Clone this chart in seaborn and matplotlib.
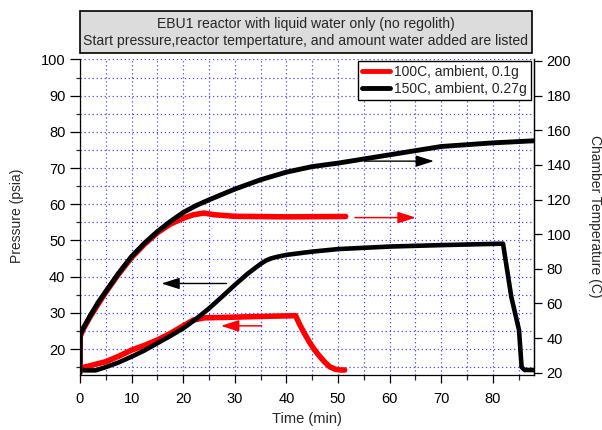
import matplotlib
matplotlib.use("Agg")
import numpy as np
import pandas as pd
import matplotlib.pyplot as plt
import seaborn as sns
from matplotlib.ticker import MultipleLocator
from matplotlib.patches import Rectangle, ArrowStyle
from matplotlib.lines import Line2D

# ---------------- data ----------------
title_lines = ["EBU1 reactor with liquid water only (no regolith)",
               "Start pressure,reactor tempertature, and amount water added are listed"]
legend_labels = ["100C, ambient, 0.1g", "150C, ambient, 0.27g"]
series_colors = ["#ff0000", "#000000"]
x_label = "Time (min)"
y_label_left = "Pressure (psia)"
y_label_right = "Chamber Temperature (C)"

# Pressure (left axis), 100C run
t_p100 = [0, 2, 5, 7.5, 10, 12.5, 15, 17.5, 20, 22, 24, 27, 30, 35, 41.8,
          42.5, 43.5, 44.6, 45.5, 46.5, 47.5, 48.4, 49.5, 50.5, 51.3]
p_100 = [14.7, 15.4, 16.5, 18.0, 19.7, 21.0, 22.5, 24.3, 26.4, 28.0, 28.6, 28.7, 28.8, 29.0, 29.2,
         27.0, 24.3, 21.6, 19.7, 17.9, 16.3, 15.1, 14.4, 14.2, 14.2]

# Pressure (left axis), 150C run
t_p150 = [0, 1, 3, 5, 7.5, 10, 12.5, 15, 17.5, 20, 22.5, 25, 27.5, 30, 32.5, 35,
          36, 37, 38, 40, 45, 50, 60, 70, 82.0, 83.6, 85.1, 85.6, 86.2, 88]
p_150 = [14.3, 14.1, 14.1, 15.0, 16.3, 17.9, 19.6, 21.6, 23.6, 25.7, 28.3, 31.2, 34.4, 37.7, 40.8, 43.5,
         44.4, 45.0, 45.4, 46.0, 46.9, 47.6, 48.3, 48.7, 49.1, 34.4, 25.2, 15.0, 14.2, 14.2]

# Chamber temperature (right axis), 100C run
t_T100 = [0, 0.05, 0.6, 2, 5, 7.5, 10, 12.5, 15, 17.5, 20, 22, 24, 26, 30, 40, 51.5]
T_100 = [20, 41, 45, 52.5, 66.5, 77, 86.5, 94.2, 100.8, 105.8, 109.2, 111.2, 112.2, 111.2, 110.3, 110.0, 110.2]

# Chamber temperature (right axis), 150C run
t_T150 = [0, 0.05, 0.6, 2, 3.5, 5, 7.5, 10, 12.5, 15, 17.5, 20, 22.5, 25, 30, 35,
          40, 45, 50, 60, 70, 80, 88]
T_150 = [20, 42, 45.5, 53, 60.5, 66.9, 77.5, 87.1, 94.8, 101.5, 107.3, 112.5, 116.5, 119.8, 126.0, 131.4,
         135.8, 139.0, 141.0, 145.8, 150.6, 152.7, 153.9]

# ---------------- style ----------------
sns.set_theme(style="white")
plt.rcParams["font.family"] = ["Liberation Sans", "DejaVu Sans"]
plt.rcParams["axes.edgecolor"] = "black"
plt.rcParams["axes.linewidth"] = 0.9

W, H = 602, 430
fig = plt.figure(figsize=(W / 100, H / 100), dpi=100)
ax = fig.add_axes([80 / W, 1 - 375 / H, 454 / W, (375 - 59.4) / H])
ax2 = ax.twinx()

df_p100 = pd.DataFrame({"t": t_p100, "v": p_100})
df_p150 = pd.DataFrame({"t": t_p150, "v": p_150})
df_T100 = pd.DataFrame({"t": t_T100, "v": T_100})
df_T150 = pd.DataFrame({"t": t_T150, "v": T_150})

sns.lineplot(data=df_p100, x="t", y="v", ax=ax, color=series_colors[0], lw=4.0,
             estimator=None, sort=False, legend=False, zorder=3)
sns.lineplot(data=df_p150, x="t", y="v", ax=ax, color=series_colors[1], lw=3.3,
             estimator=None, sort=False, legend=False, zorder=4)
sns.lineplot(data=df_T100, x="t", y="v", ax=ax2, color=series_colors[0], lw=4.0,
             estimator=None, sort=False, legend=False, zorder=3)
sns.lineplot(data=df_T150, x="t", y="v", ax=ax2, color=series_colors[1], lw=3.5,
             estimator=None, sort=False, legend=False, zorder=4)

ax.set_xlim(0, 88)
ax.set_ylim(12.82, 100)
ax2.set_ylim(18.67, 200.9)

ax.xaxis.set_major_locator(MultipleLocator(10))
ax.xaxis.set_minor_locator(MultipleLocator(5))
ax.yaxis.set_major_locator(MultipleLocator(10))
ax.yaxis.set_minor_locator(MultipleLocator(5))
ax.set_yticks(np.arange(20, 101, 10))
ax2.set_yticks(np.arange(20, 201, 20))

grid_kw = dict(color="#4848ff", linestyle=(0, (1.1, 2.3)), linewidth=0.85)
ax.grid(True, which="both", axis="both", **grid_kw)
ax.set_axisbelow(True)

for a in (ax, ax2):
    a.spines["top"].set_visible(False)
    a.set_xlabel("")
    a.set_ylabel("")
ax2.spines["left"].set_visible(False)
ax2.spines["bottom"].set_visible(False)

ax.tick_params(axis="y", which="major", direction="out", length=7.5, width=0.9,
               labelsize=10.5, pad=3, colors="black", left=True)
ax.tick_params(axis="y", which="minor", direction="out", length=3, width=0.9, left=True)
ax.tick_params(axis="x", which="major", direction="out", length=6, width=0.9,
               labelsize=10.5, pad=6, colors="black", bottom=True)
ax.tick_params(axis="x", which="minor", direction="out", length=3.5, width=0.9, bottom=True)
ax2.tick_params(axis="y", which="major", direction="out", length=6, width=0.9,
                labelsize=10.5, pad=3, colors="black", right=True)
ax2.tick_params(axis="y", which="minor", length=0)

# arrows pointing to the axis each curve uses
def arrow(tail, tip, color, lw):
    ax.annotate("", xy=tip, xytext=tail, xycoords="data",
                arrowprops=dict(arrowstyle=ArrowStyle("-|>", head_length=1.1, head_width=0.35),
                                color=color, lw=lw, mutation_scale=10,
                                shrinkA=0, shrinkB=0), zorder=5)

arrow((55.2, 71.9), (68.6, 71.9), series_colors[1], 1.0)
arrow((53.3, 56.3), (65.1, 56.3), series_colors[0], 1.1)
arrow((28.4, 38.1), (15.8, 38.1), series_colors[1], 1.0)
arrow((35.2, 26.4), (27.3, 26.4), series_colors[0], 1.1)

# legend
handles = [Line2D([], [], color=series_colors[0], lw=3.5),
           Line2D([], [], color=series_colors[1], lw=3.5)]
leg = ax2.legend(handles, legend_labels, loc="upper right",
                 bbox_to_anchor=(531 / W, 1 - 61 / H), bbox_transform=fig.transFigure,
                 fontsize=10, frameon=True, fancybox=False, framealpha=1,
                 edgecolor="black", borderpad=0.3, labelspacing=0.2,
                 handlelength=2.0, handletextpad=0.3, borderaxespad=0)
leg.get_frame().set_linewidth(1.0)
leg.set_zorder(10)

# axis labels
fig.text(17 / W, 1 - 216 / H, y_label_left, rotation=90, ha="center", va="center", fontsize=10)
fig.text(595 / W, 1 - 216 / H, y_label_right, rotation=270, ha="center", va="center", fontsize=10)
fig.text(307 / W, 1 - 419 / H, x_label, ha="center", va="center", fontsize=10.5)

# title box
fig.patches.append(Rectangle((79.5 / W, 1 - 52.7 / H), (531.7 - 79.5) / W, (52.7 - 11) / H,
                             transform=fig.transFigure, facecolor="#dcdcdc",
                             edgecolor="black", lw=1.2, zorder=1))
fig.text(305.6 / W, 1 - 24 / H, title_lines[0], ha="center", va="center", fontsize=10.1, zorder=2)
fig.text(305.6 / W, 1 - 41.5 / H, title_lines[1], ha="center", va="center", fontsize=10.1, zorder=2)

fig.savefig("out.png", dpi=100)
